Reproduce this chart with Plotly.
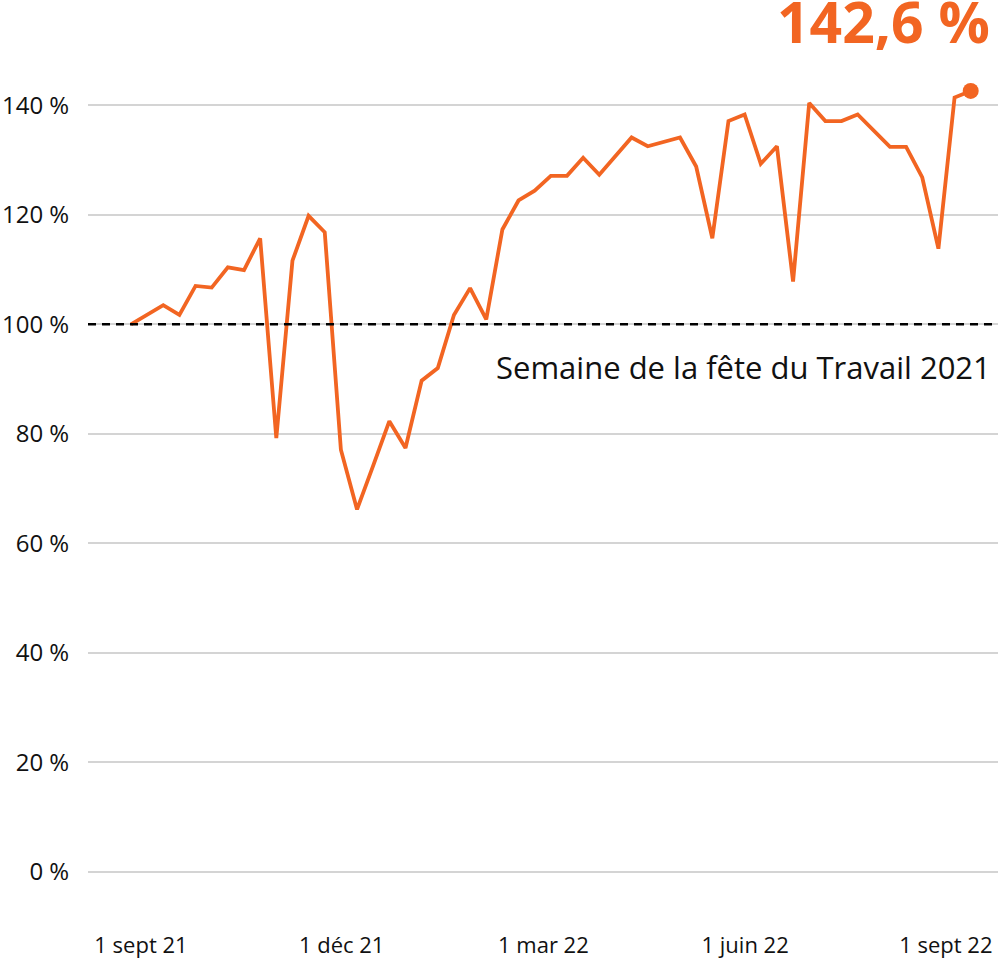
import plotly.graph_objects as go

# Weekly index (0 = week of Labour Day 2021)
weeks = list(range(53))
values = [
    100.0, 101.8, 103.5, 101.7, 107.0, 106.7, 110.4, 109.9, 115.7, 79.2,
    111.6, 119.8, 116.8, 77.1, 66.2, 74.2, 82.3, 77.4, 89.7, 92.0,
    101.7, 106.6, 100.9, 117.3, 122.6, 124.4, 127.1, 127.1, 130.4, 127.3,
    130.7, 134.1, 132.5, 133.3, 134.1, 128.8, 115.7, 137.1, 138.3, 129.3,
    132.5, 107.8, 140.4, 137.1, 137.1, 138.3, 135.3, 132.4, 132.4, 126.8,
    113.8, 141.4, 142.6,
]
x_tick_pos = [0.62, 13.05, 25.54, 38.03, 50.46]
x_tick_text = ["1 sept 21", "1 déc 21", "1 mar 22", "1 juin 22", "1 sept 22"]
y_tick_vals = [0, 20, 40, 60, 80, 100, 120, 140]
y_tick_text = [f"{v} %" for v in y_tick_vals]
baseline = 100
baseline_label = "Semaine de la fête du Travail 2021"
latest_label = "142,6 %"

ORANGE = "#F26522"
FONT = "Open Sans"

fig = go.Figure()
fig.add_trace(go.Scatter(
    x=weeks, y=values, mode="lines",
    line=dict(color=ORANGE, width=3.8),
    hoverinfo="skip", showlegend=False,
))
fig.add_trace(go.Scatter(
    x=[weeks[-1]], y=[values[-1]], mode="markers",
    marker=dict(color=ORANGE, size=16),
    hoverinfo="skip", showlegend=False,
))

fig.add_shape(type="line", xref="paper", x0=0, x1=1, yref="y", y0=baseline, y1=baseline,
              line=dict(color="black", width=2.5, dash="8px,6px"), layer="above")

fig.add_annotation(xref="paper", x=1, xshift=-5, yref="y", y=92.2,
                   text=baseline_label, showarrow=False, xanchor="right", yanchor="middle",
                   font=dict(family=FONT, size=31, color="#111111"))
fig.add_annotation(xref="paper", x=1, xshift=-6, yref="paper", y=1.0222,
                   text=f"<b>{latest_label}</b>", showarrow=False, xanchor="right", yanchor="middle",
                   font=dict(family=FONT, size=57, color=ORANGE))

fig.update_layout(
    width=1000, height=961,
    margin=dict(l=87, r=2, t=40, b=40),
    paper_bgcolor="white", plot_bgcolor="white",
    font=dict(family=FONT, color="#111111"),
    xaxis=dict(range=[-2.66, 53.69], tickvals=x_tick_pos, ticktext=x_tick_text,
               showgrid=False, zeroline=False, showline=False,
               ticks="outside", ticklen=8, tickcolor="rgba(0,0,0,0)",
               tickfont=dict(family=FONT, size=22, color="#111111")),
    yaxis=dict(range=[-8.4, 151.9], tickvals=y_tick_vals, ticktext=y_tick_text,
               showgrid=True, gridcolor="#d4d4d4", gridwidth=2,
               zeroline=False, showline=False,
               ticks="outside", ticklen=13, tickcolor="rgba(0,0,0,0)",
               tickfont=dict(family=FONT, size=24, color="#111111")),
)

fig.write_html("out.html", config={"displayModeBar": False},
               post_script="document.body.style.margin='0';document.body.style.overflow='hidden';")
